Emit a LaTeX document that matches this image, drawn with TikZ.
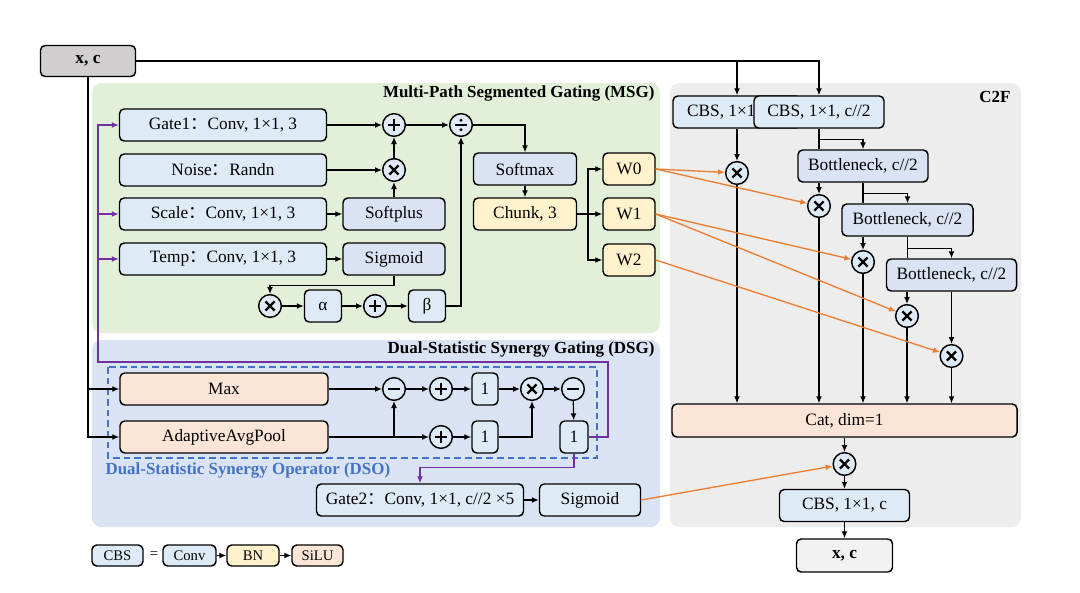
\documentclass[tikz,border=0pt]{standalone}
\usepackage{fontspec}
\setmainfont{Liberation Serif}
\newfontfamily\cjkf{Noto Sans CJK SC}
\usetikzlibrary{arrows.meta,calc}
\definecolor{cLB}{HTML}{DEEBF7}
\definecolor{cMB}{HTML}{DAE3F3}
\definecolor{cY}{HTML}{FFF2CC}
\definecolor{cO}{HTML}{FBE5D6}
\definecolor{cGreen}{HTML}{E2F0D9}
\definecolor{cBluePanel}{HTML}{DAE3F3}
\definecolor{cGrayPanel}{HTML}{EDEDED}
\definecolor{cXC}{HTML}{D0CECE}
\definecolor{cXC2}{HTML}{F2F2F2}
\definecolor{cPurple}{HTML}{7030A0}
\definecolor{cOrange}{HTML}{ED7D31}
\definecolor{cDSO}{HTML}{4472C4}
\newcommand{\fcolon}{{\cjkf ：}}
\begin{document}
\begin{tikzpicture}[x=0.75pt,y=-0.75pt,
  font=\fontsize{13}{15}\selectfont,
  >={Latex[length=5.2pt,width=4.4pt]},
  line width=0.9pt,
  wd/.style={minimum width=#1*0.75pt},
  ht/.style={minimum height=#1*0.75pt},
  box/.style={draw, rounded corners=3.5pt, line width=1.1pt, inner sep=0pt, align=center, minimum height=24pt},
  nlb/.style={box, fill=cLB},
  nmb/.style={box, fill=cMB},
  nyl/.style={box, fill=cY},
  nor/.style={box, fill=cO},
  op/.style={circle, draw, line width=1.1pt, fill=cLB, minimum size=17pt, inner sep=0pt},
  opplus/.style={op, path picture={
    \draw[line width=1.7pt] ($(path picture bounding box.center)+(-4.6pt,0)$) -- ($(path picture bounding box.center)+(4.6pt,0)$);
    \draw[line width=1.7pt] ($(path picture bounding box.center)+(0,-4.6pt)$) -- ($(path picture bounding box.center)+(0,4.6pt)$);}},
  opminus/.style={op, path picture={
    \draw[line width=1.9pt] ($(path picture bounding box.center)+(-4.6pt,0)$) -- ($(path picture bounding box.center)+(4.6pt,0)$);}},
  optimes/.style={op, path picture={
    \draw[line width=1.7pt] ($(path picture bounding box.center)+(-3.4pt,-3.4pt)$) -- ($(path picture bounding box.center)+(3.4pt,3.4pt)$);
    \draw[line width=1.7pt] ($(path picture bounding box.center)+(-3.4pt,3.4pt)$) -- ($(path picture bounding box.center)+(3.4pt,-3.4pt)$);}},
  ttl/.style={font=\fontsize{12.7}{15}\selectfont\bfseries, inner sep=0pt},
  pur/.style={draw=cPurple, line width=1pt},
  org/.style={draw=cOrange, line width=1pt},
  lg/.style={font=\fontsize{11}{13}\selectfont, minimum height=21*0.75pt, wd=52}
]
\useasboundingbox (0,0) rectangle (1080,592);

% panels
\fill[cGreen, rounded corners=7pt] (92,83) rectangle (660,333);
\fill[cBluePanel, rounded corners=7pt] (92,340) rectangle (660,527);
\fill[cGrayPanel, rounded corners=7pt] (670,83) rectangle (1021,527);
\node[ttl, anchor=east] at (655,93) {Multi-Path Segmented Gating (MSG)};
\node[ttl, anchor=east] at (655,349) {Dual-Statistic Synergy Gating (DSG)};
\node[ttl, anchor=east] at (1011,97) {C2F};
\draw[cDSO, dashed, line width=1pt, dash pattern=on 5pt off 3pt] (108,367) rectangle (597,458);
\node[ttl, text=cDSO, anchor=west] at (105,470) {Dual-Statistic Synergy Operator (DSO)};

% top input
\node[box, fill=cXC, wd=95, ht=31] (xc) at (88,61) {\textbf{x, c}};

% MSG nodes
\node[nlb, wd=207, ht=32] (gate1) at (223,125) {Gate1\fcolon Conv, 1×1, 3};
\node[nlb, wd=207, ht=32] (noise) at (223,170) {Noise\fcolon Randn};
\node[nlb, wd=207, ht=32] (scale) at (223,214) {Scale\fcolon Conv, 1×1, 3};
\node[nlb, wd=207, ht=32] (temp) at (223,259) {Temp\fcolon Conv, 1×1, 3};
\node[nmb, wd=102, ht=32] (softplus) at (394,214) {Softplus};
\node[nmb, wd=102, ht=32] (sigm1) at (394,259) {Sigmoid};
\node[opplus] (plus1) at (394,125) {};
\node[optimes] (times1) at (394,170) {};
\node[opminus] (div) at (461,125) {};
\fill ($(div.center)+(0,3.6pt)$) circle[radius=1.25pt];
\fill ($(div.center)+(0,-3.6pt)$) circle[radius=1.25pt];
\node[optimes] (times2) at (270,306) {};
\node[nlb, wd=37, ht=32] (alpha) at (323,306) {α};
\node[opplus] (plus2) at (375,306) {};
\node[nlb, wd=37, ht=32] (beta) at (427,306) {β};
\node[nmb, wd=103, ht=32] (softmax) at (525,169) {Softmax};
\node[nyl, wd=103, ht=32] (chunk) at (525,214) {Chunk, 3};
\node[nyl, wd=52, ht=32] (w0) at (629,169) {W0};
\node[nyl, wd=52, ht=32] (w1) at (629,214) {W1};
\node[nyl, wd=52, ht=32] (w2) at (629,260) {W2};

% MSG connectors
\draw[->] (gate1) -- (plus1);
\draw[->] (noise) -- (times1);
\draw[->] (scale) -- (softplus);
\draw[->] (softplus) -- (times1);
\draw[->] (times1) -- (plus1);
\draw[->] (temp) -- (sigm1);
\draw[->] (sigm1.south) -- ++(0,10) -| (times2.north);
\draw[->] (times2) -- (alpha);
\draw[->] (alpha) -- (plus2);
\draw[->] (plus2) -- (beta);
\draw[->] (beta.east) -| (div.south);
\draw[->] (plus1) -- (div);
\draw[->] (div.east) -| (softmax.north);
\draw[->] (softmax) -- (chunk);
\coordinate (br) at (588,214);
\draw (chunk.east) -- (br);
\draw[->] (br) |- (w0.west);
\draw[->] (br) -- (w1.west);
\draw[->] (br) |- (w2.west);

% DSG nodes
\node[nor, wd=208, ht=32] (max) at (224,389) {Max};
\node[nor, wd=208, ht=32] (avg) at (224,437) {AdaptiveAvgPool};
\node[opminus] (m1) at (394,389) {};
\node[opplus] (p1) at (441,389) {};
\node[nlb, wd=26, ht=32] (b1) at (485,389) {1};
\node[optimes] (t1) at (532,389) {};
\node[opminus] (m2) at (573,389) {};
\node[opplus] (p2) at (441,437) {};
\node[nlb, wd=26, ht=32] (b2) at (485,437) {1};
\node[nlb, wd=28, ht=32] (b3) at (574,437) {1};
\node[nlb, wd=207, ht=32] (gate2) at (420,500) {Gate2\fcolon Conv, 1×1, c//2 ×5};
\node[nlb, wd=101, ht=32] (sig2) at (590,500) {Sigmoid};

% DSG connectors
\draw[->] (xc.south) |- (avg.west);
\draw[->] (xc.south |- max.west) -- (max.west);
\draw[->] (max) -- (m1);
\draw[->] (avg.east) -- (p2);
\draw[->] (m1 |- avg.east) -- (m1);
\draw[->] (m1) -- (p1);
\draw[->] (p1) -- (b1);
\draw[->] (b1) -- (t1);
\draw[->] (t1) -- (m2);
\draw[->] (m2) -- (b3);
\draw[->] (p2) -- (b2);
\draw[->] (b2.east) -| (t1.south);
\draw[->] (gate2) -- (sig2);

% purple feedback
\coordinate (pr) at (608,362);
\coordinate (pl) at (98,362);
\draw[pur, ->] (b3.east) -| (pr) -- (pl) |- (gate1.west);
\draw[pur, ->] (pl |- scale.west) -- (scale.west);
\draw[pur, ->] (pl |- temp.west) -- (temp.west);
\draw[pur, ->] (b3.south) -- ++(0,14) -| (gate2.north);

% C2F nodes
\node[nlb, wd=128, ht=32] (cbs1) at (737,112) {\makebox[96pt][l]{\hspace{10.5pt}CBS, 1×1}};
\node[nlb, wd=130, ht=32] (cbs2) at (819,112) {CBS, 1×1, c//2};
\node[nmb, wd=130, ht=32] (bn1) at (863,166) {Bottleneck, c//2};
\node[nmb, wd=131, ht=32] (bn2) at (907.5,220) {Bottleneck, c//2};
\node[nmb, wd=130, ht=32] (bn3) at (951.5,275) {Bottleneck, c//2};
\node[optimes] (c1) at (737,173) {};
\node[optimes] (c2) at (819,206) {};
\node[optimes] (c3) at (863,262) {};
\node[optimes] (c4) at (907,316) {};
\node[optimes] (c5) at (951.5,356) {};
\node[nor, wd=345, ht=33] (cat) at (844.5,420.5) {Cat, dim=1};
\node[optimes] (c6) at (844.5,464) {};
\node[nlb, wd=130, ht=32] (cbs3) at (844.5,505.5) {CBS, 1×1, c};
\node[box, fill=cXC2, wd=96, ht=33] (xcout) at (844.5,555.5) {\textbf{x, c}};

% C2F connectors
\draw[->] (xc.east) -| (cbs2.north);
\draw[->] (xc.east -| cbs1.north) -- (cbs1.north);
\draw[->] (cbs1.south) -- (c1);
\draw (cbs2.south) -- (cbs2.south |- bn1.north);
\draw[->] ($(cbs2.south)+(0,11)$) -| (bn1.north);
\draw[->] (c2 |- bn1.south) -- (c2);
\draw (bn1.south) -- (bn1.south |- bn2.north);
\draw[->] ($(bn1.south)+(0,11)$) -| (bn2.north);
\draw[->] (c3 |- bn2.south) -- (c3);
\draw (bn2.south) -- (bn2.south |- bn3.north);
\draw[->] ($(bn2.south)+(0,12)$) -| (bn3.north);
\draw[->] (c4 |- bn3.south) -- (c4);
\draw[->] (bn3.south) -- (c5);
\foreach \c in {c1,c2,c3,c4,c5} \draw[->] (\c) -- (\c |- cat.north);
\draw[->] (cat) -- (c6);
\draw[->] (c6) -- (cbs3);
\draw[->] (cbs3) -- (xcout);

% orange weights
\draw[org, ->] (w0.east) -- (c1);
\draw[org, ->] (w0.east) -- (c2);
\draw[org, ->] (w1.east) -- (c3);
\draw[org, ->] (w1.east) -- (c4);
\draw[org, ->] (w2.east) -- (c5);
\draw[org, ->] (sig2.east) -- (c6);

% legend
\node[nlb, lg, wd=51] (lcbs) at (117.5,555.5) {CBS};
\node[font=\fontsize{11}{13}\selectfont] (leq) at (154,555.5) {=};
\node[nlb, lg, wd=53] (lconv) at (189.5,555.5) {Conv};
\node[nyl, lg, wd=52] (lbn) at (253,555.5) {BN};
\node[nor, lg, wd=51] (lsilu) at (317.5,555.5) {SiLU};
\draw[->] (lconv) -- (lbn);
\draw[->] (lbn) -- (lsilu);
\end{tikzpicture}
\end{document}
